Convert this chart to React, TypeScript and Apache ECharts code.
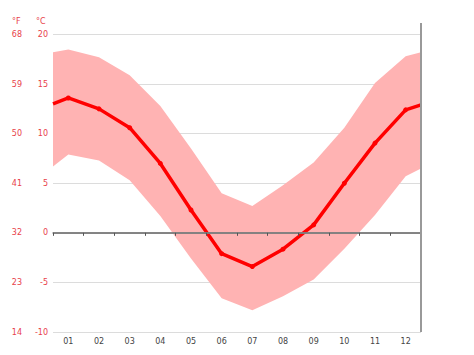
import React, { useEffect, useRef } from "react";
import * as echarts from "echarts";

const months = ["01", "02", "03", "04", "05", "06", "07", "08", "09", "10", "11", "12"];
const meanTemp = [13.6, 12.5, 10.6, 7.0, 2.3, -2.1, -3.4, -1.65, 0.8, 5.0, 9.05, 12.4];
const maxTemp = [18.5, 17.7, 15.9, 12.8, 8.5, 4.0, 2.7, 4.8, 7.1, 10.6, 15.1, 17.8];
const minTemp = [7.9, 7.3, 5.3, 1.7, -2.6, -6.6, -7.8, -6.4, -4.7, -1.6, 1.8, 5.7];
// values read at the left and right edges of the plot (year wrap)
const edgeMean = [13.0, 12.9];
const edgeMax = [18.2, 18.2];
const edgeMin = [6.7, 6.5];
const celsiusTicks = [-10, -5, 0, 5, 10, 15, 20];
const fahrenheitTicks = ["14", "23", "32", "41", "50", "59", "68"];

const RED = "#ff0000";
const LABEL_RED = "#e8414a";

function withEdges(values: number[], edges: number[]): number[][] {
  const pts: number[][] = [[0, edges[0]]];
  values.forEach((v, i) => pts.push([i + 0.5, v]));
  pts.push([12, edges[1]]);
  return pts;
}

export default function App() {
  const ref = useRef<HTMLDivElement>(null);
  useEffect(() => {
    if (!ref.current) return;
    const chart = echarts.init(ref.current, undefined, { renderer: "svg" });
    const lower = withEdges(minTemp, edgeMin);
    const upper = withEdges(maxTemp, edgeMax);
    const bandData = upper.map((p, i) => [p[0], lower[i][1], p[1]]);
    const labelFont = { fontFamily: "DejaVu Sans", fontSize: 8 };
    chart.setOption({
      animation: false,
      grid: { left: 53, right: 53, top: 34.5, bottom: 23, containLabel: false },
      xAxis: [
        {
          type: "category",
          data: months,
          boundaryGap: true,
          axisLine: { show: true, lineStyle: { color: "#888", width: 1.5 } },
          axisTick: { show: true, length: 3, lineStyle: { color: "#555" } },
          axisLabel: { color: "#444", margin: 5, ...labelFont },
          splitLine: { show: false },
          z: 5,
        },
        {
          type: "value",
          min: 0,
          max: 12,
          show: false,
          splitLine: { show: false },
        },
      ],
      yAxis: [
        {
          type: "value",
          min: -10,
          max: 20,
          interval: 5,
          position: "left",
          axisLine: { show: false },
          axisTick: { show: false },
          axisLabel: { color: LABEL_RED, margin: 5, ...labelFont },
          splitLine: { show: true, lineStyle: { color: "#dcdcdc", width: 1 } },
        },
        {
          type: "value",
          min: -10,
          max: 20,
          interval: 5,
          position: "left",
          offset: 26,
          axisLine: { show: false },
          axisTick: { show: false },
          axisLabel: {
            color: LABEL_RED,
            margin: 5,
            ...labelFont,
            formatter: (v: number) => fahrenheitTicks[celsiusTicks.indexOf(v)] ?? "",
          },
          splitLine: { show: false },
        },
      ],
      graphic: [
        { type: "text", left: 12, top: 17, style: { text: "°F", fill: LABEL_RED, font: "8px 'DejaVu Sans'" } },
        { type: "text", left: 36, top: 17, style: { text: "°C", fill: LABEL_RED, font: "8px 'DejaVu Sans'" } },
        {
          type: "line",
          shape: { x1: 421, y1: 23, x2: 421, y2: 332 },
          style: { stroke: "#999", lineWidth: 2 },
          z: 10,
        },
      ],
      series: [
        {
          type: "custom",
          xAxisIndex: 1,
          yAxisIndex: 0,
          data: bandData,
          encode: { x: 0, y: [1, 2] },
          silent: true,
          z: 1,
          renderItem: (params: any, api: any) => {
            if (params.dataIndex !== 0) return null;
            const top = bandData.map((d) => api.coord([d[0], d[2]]));
            const bottom = bandData.map((d) => api.coord([d[0], d[1]])).reverse();
            return {
              type: "polygon",
              shape: { points: top.concat(bottom) },
              style: { fill: "#ffb3b3", stroke: "none" },
            };
          },
        },
        {
          type: "line",
          xAxisIndex: 1,
          yAxisIndex: 0,
          data: [],
          symbol: "none",
          silent: true,
          z: 2,
          markLine: {
            silent: true,
            symbol: "none",
            label: { show: false },
            lineStyle: { color: "#555", width: 1.5, type: "solid" },
            data: [{ yAxis: 0 }],
          },
        },
        {
          type: "line",
          xAxisIndex: 1,
          yAxisIndex: 0,
          data: withEdges(meanTemp, edgeMean),
          symbol: (_v: any, p: any) => (p.dataIndex === 0 || p.dataIndex === 13 ? "none" : "circle"),
          symbolSize: 5,
          showAllSymbol: true,
          itemStyle: { color: RED },
          lineStyle: { color: RED, width: 3.5 },
          z: 3,
        },
      ],
    });
    return () => chart.dispose();
  }, []);
  return <div ref={ref} style={{ width: 474, height: 355, position: "absolute", left: 0, top: 0 }} />;
}
